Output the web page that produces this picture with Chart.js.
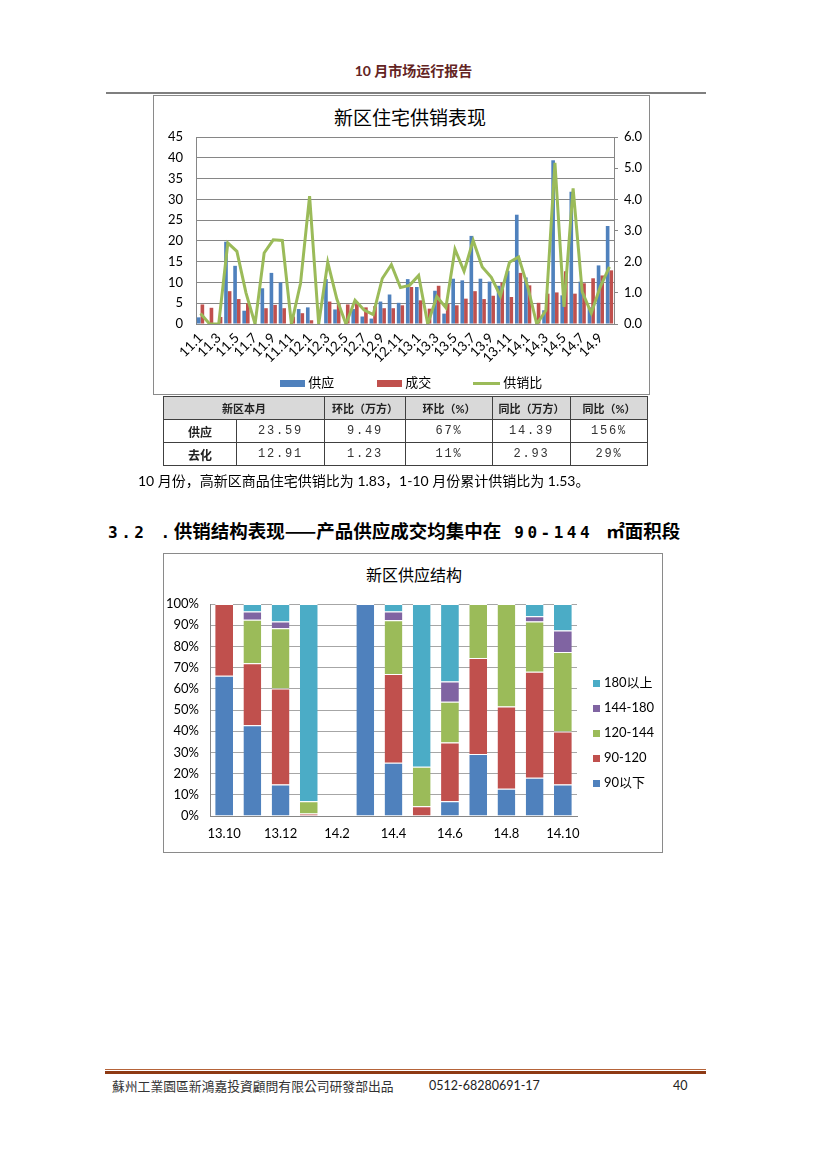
<!DOCTYPE html>
<html>
<head>
<meta charset="utf-8">
<script src="https://cdn.jsdelivr.net/npm/chart.js@4.4.1/dist/chart.umd.min.js"></script>
<style>
  body { margin: 0; width: 827px; height: 1169px; background: #fff; position: relative; overflow: hidden;
         font-family: "Lato", "Noto Sans CJK SC", sans-serif; color: #000; }
  .abs { position: absolute; white-space: nowrap; }
  .box { position: absolute; box-sizing: border-box; border: 1px solid #8a8a8a; }
  canvas { position: absolute; }
  .sq { display: inline-block; vertical-align: middle; }
  table { position: absolute; left: 163px; top: 396px; border-collapse: collapse; table-layout: fixed; }
  td { border: 1px solid #404040; text-align: center; padding: 0; height: 22px; font-size: 12px; color: #222; }
  tr.head td { background: #d9d9d9; font-weight: 700; font-size: 11px; }
  td.rl { font-weight: 700; font-size: 12px; }
  td.num { font-family: "Liberation Mono", monospace; letter-spacing: 1.8px; font-size: 12px; color: #333; }
  .mono { font-family: "DejaVu Sans Mono", monospace; font-size: 16px; letter-spacing: 3.5px; }
  .cjk { font-family: "Noto Sans CJK SC", sans-serif; }
</style>
</head>
<body>

<div class="abs" style="left:0;width:827px;top:62px;line-height:18px;text-align:center;font-size:14px;font-weight:700;color:#632423;">10 月市场运行报告</div>
<div class="abs" style="left:106px;top:92px;width:600px;height:2px;background:#7f7f7f;"></div>

<!-- chart 1 -->
<div class="box" style="left:153px;top:95px;width:497px;height:300px;"></div>
<div class="abs" style="left:153px;width:514px;top:106px;line-height:24px;text-align:center;font-size:19px;">新区住宅供销表现</div>
<canvas id="c1" width="497" height="300" style="left:153px;top:95px;"></canvas>
<div class="abs" style="left:280px;top:374px;line-height:16px;font-size:13px;">
  <span class="sq" style="width:25px;height:7px;background:#4F81BD;"></span> 供应
</div>
<div class="abs" style="left:377px;top:374px;line-height:16px;font-size:13px;">
  <span class="sq" style="width:25px;height:7px;background:#C0504D;"></span> 成交
</div>
<div class="abs" style="left:473px;top:374px;line-height:16px;font-size:13px;">
  <span class="sq" style="width:27px;height:3px;background:#9BBB59;"></span> 供销比
</div>

<table>
  <colgroup><col style="width:73px"><col style="width:88px"><col style="width:81px"><col style="width:87px"><col style="width:78px"><col style="width:77px"></colgroup>
  <tr class="head"><td colspan="2">新区本月</td><td>环比（万方）</td><td>环比（%）</td><td>同比（万方）</td><td>同比（%）</td></tr>
  <tr><td class="rl">供应</td><td class="num">23.59</td><td class="num">9.49</td><td class="num">67%</td><td class="num">14.39</td><td class="num">156%</td></tr>
  <tr><td class="rl">去化</td><td class="num">12.91</td><td class="num">1.23</td><td class="num">11%</td><td class="num">2.93</td><td class="num">29%</td></tr>
</table>

<div class="abs" style="left:138px;top:472px;line-height:18px;font-size:14px;">10 月份，高新区商品住宅供销比为 1.83，1-10 月份累计供销比为 1.53。</div>

<div class="abs" style="left:108px;top:518px;line-height:24px;font-size:18.5px;font-weight:700;"><span class="mono">3.2 .</span><span class="cjk">供销结构表现——产品供应成交均集中在</span><span class="mono"> 90-144 </span><span class="cjk">㎡面积段</span></div>

<!-- chart 2 -->
<div class="box" style="left:163px;top:553px;width:500px;height:300px;"></div>
<div class="abs" style="left:163px;width:502px;top:564px;line-height:22px;text-align:center;font-size:16px;">新区供应结构</div>
<canvas id="c2" width="500" height="300" style="left:163px;top:553px;"></canvas>
<div id="lg2"></div>

<!-- footer -->
<div class="abs" style="left:105px;top:1069px;width:601px;height:1px;background:#b5643a;"></div>
<div class="abs" style="left:105px;top:1071px;width:601px;height:3px;background:#8e3a14;"></div>
<div class="abs" style="left:112px;top:1077px;line-height:18px;font-size:12.8px;font-family:'Noto Sans CJK TC',sans-serif;color:#333;">蘇州工業園區新鴻嘉投資顧問有限公司研發部出品</div>
<div class="abs" style="left:429px;top:1077px;line-height:18px;font-size:12.5px;color:#222;">0512-68280691-17</div>
<div class="abs" style="left:673px;top:1077px;line-height:18px;font-size:12.5px;color:#222;">40</div>

<script>
// ---- chart 1 data: 新区住宅供销表现 (万方, 供销比) ----
const months = ['11.1','11.2','11.3','11.4','11.5','11.6','11.7','11.8','11.9','11.10','11.11','11.12',
  '12.1','12.2','12.3','12.4','12.5','12.6','12.7','12.8','12.9','12.10','12.11','12.12',
  '13.1','13.2','13.3','13.4','13.5','13.6','13.7','13.8','13.9','13.10','13.11','13.12',
  '14.1','14.2','14.3','14.4','14.5','14.6','14.7','14.8','14.9','14.10'];
const supply = [1.6, 0, 0, 19.8, 14.0, 3.2, 0, 8.6, 12.3, 10.0, 0, 3.6,
  4.0, 0, 10.8, 3.5, 0, 3.6, 1.8, 1.3, 5.4, 7.1, 5.1, 10.8,
  8.9, 0, 8.0, 2.5, 10.9, 10.5, 21.2, 10.9, 10.2, 9.2, 12.8, 26.3,
  11.2, 0, 3.3, 39.4, 6.9, 31.8, 10.2, 4.0, 14.1, 23.59];
const sales = [4.7, 3.9, 1.7, 7.9, 6.0, 5.0, 0, 3.8, 4.6, 3.8, 1.8, 2.6,
  0.9, 0, 5.4, 5.0, 4.7, 4.8, 4.0, 4.3, 3.8, 3.8, 4.5, 8.9,
  5.7, 3.7, 9.2, 4.8, 4.5, 6.1, 7.9, 6.0, 6.8, 9.98, 6.5, 12.3,
  9.3, 5.1, 7.3, 7.6, 12.7, 7.3, 9.8, 11.0, 11.68, 12.91];
const ratio = [0.34, 0, 0, 2.6, 2.33, 1.0, 0, 2.28, 2.7, 2.68, 0, 1.3,
  4.1, 0, 1.98, 0.8, 0, 0.76, 0.45, 0.3, 1.46, 1.9, 1.17, 1.24,
  1.56, 0, 0.88, 0.52, 2.4, 1.69, 2.68, 1.83, 1.5, 0.9, 1.98, 2.15,
  1.2, 0, 0.43, 5.17, 0.55, 4.35, 1.03, 0.35, 1.2, 1.83];

// ---- chart 2 data: 新区供应结构 (%) ----
const months2 = ['13.10','13.11','13.12','14.1','14.2','14.3','14.4','14.5','14.6','14.7','14.8','14.9','14.10'];
const below90 = [66.2, 42.8, 14.9, 0, 0, 100, 25.1, 0, 6.9, 29.2, 12.9, 18.1, 14.9];
const r90_120 = [33.8, 29.3, 45.2, 1.2, 0, 0, 41.9, 4.6, 27.8, 45.3, 38.7, 49.9, 24.9];
const r120_144 = [0, 20.5, 28.5, 5.7, 0, 0, 25.3, 18.6, 19.2, 25.5, 48.4, 23.8, 37.6];
const r144_180 = [0, 3.9, 3.2, 0, 0, 0, 4.2, 0, 9.5, 0, 0, 2.4, 10.1];
const above180 = [0, 3.5, 8.2, 93.1, 0, 0, 3.5, 76.8, 36.6, 0, 0, 5.8, 12.5];

const BLUE = '#4F81BD', RED = '#C0504D', GREEN = '#9BBB59', PURPLE = '#8064A2', CYAN = '#4BACC6';
const GRID = '#868686';
const latin = 'Lato, "Noto Sans CJK SC", sans-serif';

new Chart(document.getElementById('c1'), {
  type: 'bar',
  data: {
    labels: months,
    datasets: [
      { type: 'line', label: '供销比', data: ratio, yAxisID: 'y1', borderColor: GREEN, backgroundColor: GREEN,
        borderWidth: 3, pointRadius: 0, tension: 0, order: 0 },
      { label: '供应', data: supply, yAxisID: 'y', backgroundColor: BLUE, categoryPercentage: 0.8, barPercentage: 1, order: 1 },
      { label: '成交', data: sales, yAxisID: 'y', backgroundColor: RED, categoryPercentage: 0.8, barPercentage: 1, order: 1 }
    ]
  },
  options: {
    responsive: false,
    animation: false,
    devicePixelRatio: 1,
    layout: { padding: { top: 42, left: 0, right: 0, bottom: 0 } },
    plugins: { legend: { display: false }, tooltip: { enabled: false } },
    scales: {
      x: {
        grid: { display: true, drawOnChartArea: false, drawTicks: false },
        border: { color: GRID },
        ticks: {
          autoSkip: false, maxRotation: 45, minRotation: 45, padding: 6, color: '#000',
          font: { family: latin, size: 13.5 },
          callback: function (v, i) { return i % 2 === 0 ? this.getLabelForValue(v) : ''; }
        },
        afterFit: s => { s.height = 71; }
      },
      y: {
        position: 'left', min: 0, max: 45,
        ticks: { stepSize: 5, padding: 13, color: '#000', font: { family: latin, size: 13 } },
        grid: { color: GRID, drawTicks: false },
        border: { color: GRID },
        afterFit: s => { s.width = 43; }
      },
      y1: {
        position: 'right', min: 0, max: 6,
        ticks: { stepSize: 1, padding: 6, color: '#000', font: { family: latin, size: 13 }, callback: v => v.toFixed(1) },
        grid: { drawOnChartArea: false, tickLength: 4, color: GRID },
        border: { color: GRID },
        afterFit: s => { s.width = 36; }
      }
    }
  }
});

const series2 = [
  { label: '90以下', data: below90, color: BLUE },
  { label: '90-120', data: r90_120, color: RED },
  { label: '120-144', data: r120_144, color: GREEN },
  { label: '144-180', data: r144_180, color: PURPLE },
  { label: '180以上', data: above180, color: CYAN }
];

new Chart(document.getElementById('c2'), {
  type: 'bar',
  data: {
    labels: months2,
    datasets: series2.map(s => ({
      label: s.label, data: s.data, backgroundColor: s.color,
      borderColor: '#ffffff', borderWidth: { top: 1, left: 0, right: 0, bottom: 0 },
      categoryPercentage: 1, barPercentage: 0.63
    }))
  },
  options: {
    responsive: false,
    animation: false,
    devicePixelRatio: 1,
    layout: { padding: { top: 51, left: 0, right: 86, bottom: 0 } },
    plugins: { legend: { display: false }, tooltip: { enabled: false } },
    scales: {
      x: {
        stacked: true,
        grid: { display: true, drawOnChartArea: false, drawTicks: false },
        border: { color: GRID },
        ticks: {
          autoSkip: false, maxRotation: 0, padding: 10, color: '#000',
          font: { family: latin, size: 13 },
          callback: function (v, i) { return i % 2 === 0 ? this.getLabelForValue(v) : ''; }
        },
        afterFit: s => { s.height = 37; }
      },
      y: {
        stacked: true, min: 0, max: 100,
        ticks: { stepSize: 10, padding: 11, color: '#000', font: { family: latin, size: 13 }, callback: v => v + '%' },
        grid: { color: '#a6a6a6', drawTicks: false },
        border: { color: GRID },
        afterFit: s => { s.width = 47; }
      }
    }
  }
});

// legend for chart 2, top item first
const lg = document.getElementById('lg2');
series2.slice().reverse().forEach((s, i) => {
  const d = document.createElement('div');
  d.className = 'abs';
  d.style.cssText = 'left:593px;top:' + (674 + i * 25) + 'px;line-height:16px;font-size:13px;';
  d.innerHTML = '<span class="sq" style="width:7px;height:7px;background:' + s.color + ';margin-right:4px;"></span>' + s.label;
  lg.appendChild(d);
});
</script>
</body>
</html>
